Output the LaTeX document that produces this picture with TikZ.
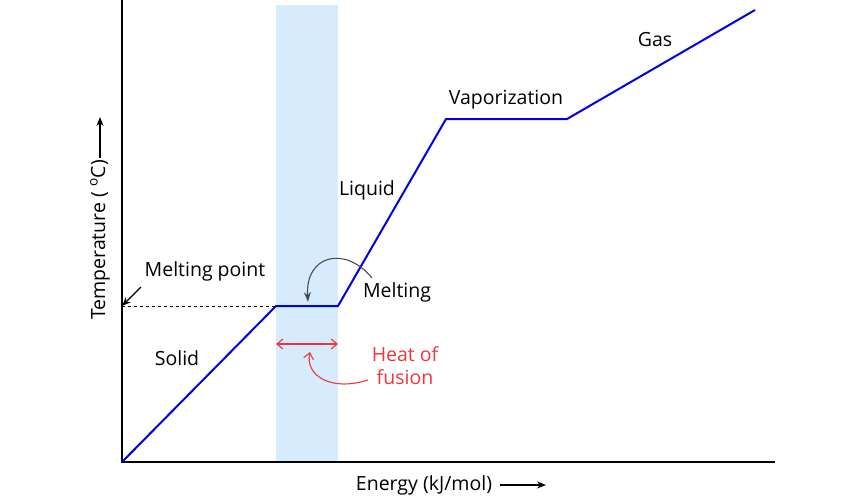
\documentclass[tikz,border=0pt]{standalone}
\usepackage{fontspec}
\setmainfont{Open Sans}
\usetikzlibrary{arrows.meta}
\definecolor{band}{HTML}{D6ECFC}
\definecolor{heat}{HTML}{F0353C}
\begin{document}
\begin{tikzpicture}[x=1pt,y=-1pt,font=\fontsize{19.5}{23}\selectfont,
  curve/.style={blue!90!black,line width=2pt},
  lbl/.style={inner sep=0pt,anchor=center}]
\useasboundingbox (0,0) rectangle (850,500);
\fill[band] (276,5) rectangle (338,462);
\coordinate (O) at (122,462);
\coordinate (Ytop) at (122,0);
\coordinate (Xend) at (775,462);
\draw[line width=1.3pt] (Ytop) -- (O) -- (Xend);
\coordinate (A) at (276,306);
\coordinate (B) at (338,306);
\coordinate (C) at (446,119);
\coordinate (D) at (567,119);
\coordinate (E) at (755,10);
\coordinate (M) at (122,306);
\draw[dashed,line width=0.8pt] (M) -- (A);
\draw[curve,line join=round] (O) -- (A) -- (B) -- (C) -- (D) -- (E);
\node[lbl] (mp) at (205,271) {Melting point};
\coordinate (mpa) at (141,287);
\draw[-{Stealth[length=9pt,width=7pt]},line width=1.2pt] (mpa) -- (M);
\node[lbl] (solid) at (177,358) {Solid};
\node[lbl] (liquid) at (367,190) {Liquid};
\node[lbl] (vap) at (506,100) {Vaporization};
\node[lbl] (gas) at (655,40) {Gas};
\node[lbl] (melt) at (397,292) {Melting};
\coordinate (mt) at (308,302);
\draw[-{Stealth[length=10pt,width=7pt]},black!70,line width=1.1pt] (372,278) .. controls (345,245) and (305,255) .. (mt);
\coordinate (h1) at (276,344);
\coordinate (h2) at (338,344);
\draw[{Straight Barb[length=6pt,width=10pt]}-{Straight Barb[length=6pt,width=10pt]},heat,line width=1.1pt] (h1) -- (h2);
\node[lbl,text=heat,align=center] (hf) at (405,366) {Heat of\\fusion};
\coordinate (hft) at (310,352);
\draw[-{Straight Barb[length=6pt,width=10pt]},heat,line width=1.1pt] (368,380) .. controls (330,392) and (305,375) .. (hft);
\node[lbl] (en) at (424,485) {Energy (kJ/mol)};
\coordinate (ea) at (500,485);
\coordinate (eb) at (546,485);
\draw[-{Stealth[length=9pt,width=7pt]},line width=1.2pt] (ea) -- (eb);
\node[lbl,rotate=90] (temp) at (100,240) {Temperature ( $^{\mathrm{o}}$C)};
\coordinate (ta) at (100,158);
\coordinate (tb) at (100,117);
\draw[-{Stealth[length=9pt,width=7pt]},line width=1.2pt] (ta) -- (tb);
\end{tikzpicture}
\end{document}
